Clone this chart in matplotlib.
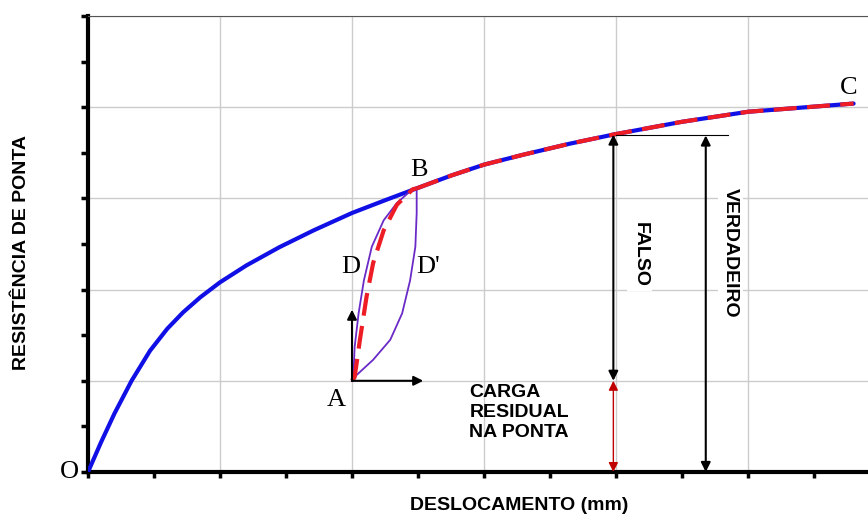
import matplotlib
matplotlib.use('Agg')
import matplotlib.pyplot as plt
from matplotlib.ticker import MultipleLocator

# curva carga x deslocamento (unidades da grade)
curva_x = [0, 0.1, 0.2, 0.33, 0.47, 0.6, 0.72, 0.85, 1.0, 1.2, 1.45, 1.71, 2.0, 2.26,
           2.49, 2.75, 3.0, 3.3, 3.65, 3.98, 4.5, 5.0, 5.4, 5.8]
curva_y = [0, 0.33, 0.64, 1.0, 1.33, 1.57, 1.75, 1.915, 2.08, 2.265, 2.465, 2.65, 2.84, 2.985,
           3.11, 3.25, 3.37, 3.48, 3.60, 3.70, 3.84, 3.95, 3.995, 4.04]
iB = 14  # indice do ponto B

# recarregamento A -> B (tracejado)
rec_x = [2.0, 2.02, 2.06, 2.11, 2.16, 2.24, 2.34, 2.46, 2.49]
rec_y = [1.0, 1.04, 1.45, 1.92, 2.29, 2.65, 2.93, 3.10, 3.11]

# laco de histerese D / D'
laco_d_x = [2.0, 2.01, 2.02, 2.05, 2.09, 2.15, 2.24, 2.34, 2.45, 2.49]
laco_d_y = [1.0, 1.03, 1.37, 1.74, 2.10, 2.47, 2.76, 2.95, 3.09, 3.11]
laco_dl_x = [2.49, 2.49, 2.48, 2.44, 2.38, 2.29, 2.16, 2.01, 2.0]
laco_dl_y = [3.11, 2.84, 2.47, 2.10, 1.74, 1.45, 1.23, 1.03, 1.0]

A = (2.0, 1.0)
x_falso = 3.98
x_verd = 4.68
y_topo = 3.70

fig = plt.figure(figsize=(8.68, 5.2), dpi=100)
ax = fig.add_axes([88/868, 48/520, 780/868, 456/520])
ax.set_xlim(0, 780/132)
ax.set_ylim(0, 5)

ax.xaxis.set_major_locator(MultipleLocator(1))
ax.xaxis.set_minor_locator(MultipleLocator(0.5))
ax.yaxis.set_major_locator(MultipleLocator(1))
ax.yaxis.set_minor_locator(MultipleLocator(0.5))
ax.grid(True, which='major', color='#cccccc', lw=1)
ax.set_axisbelow(True)
ax.tick_params(which='both', labelbottom=False, labelleft=False, color='black')
ax.tick_params(axis='y', which='both', direction='out', length=5, width=2.5)
ax.tick_params(axis='x', which='both', direction='out', length=4, width=2.5)
ax.spines['left'].set_linewidth(3)
ax.spines['bottom'].set_linewidth(3)
ax.spines['top'].set_linewidth(0.8)
ax.spines['top'].set_color('#555555')
ax.spines['right'].set_visible(False)

ax.plot(curva_x, curva_y, color='#1010e6', lw=3, solid_capstyle='round',
        solid_joinstyle='round', zorder=3)
ax.plot(curva_x[iB:], curva_y[iB:], color='#ee1c24', lw=3, dashes=(5.5, 2.5), zorder=4)
ax.plot(laco_d_x, laco_d_y, color='#6a2ac8', lw=1.3, solid_joinstyle='round', zorder=3)
ax.plot(laco_dl_x, laco_dl_y, color='#6a2ac8', lw=1.3, solid_joinstyle='round', zorder=3)
ax.plot(rec_x, rec_y, color='#ee1c24', lw=3, dashes=(5.5, 2.5), zorder=4)

seta = dict(arrowstyle='-|>', color='black', lw=1.5, mutation_scale=14, shrinkA=0, shrinkB=0)
ax.annotate('', xy=(2.0, 1.78), xytext=A, arrowprops=seta, zorder=5)
ax.annotate('', xy=(2.54, 1.0), xytext=A, arrowprops=seta, zorder=5)

dupla = dict(arrowstyle='<|-|>', color='black', lw=1.5, mutation_scale=14, shrinkA=0, shrinkB=0)
ax.annotate('', xy=(x_falso, y_topo), xytext=(x_falso, 1.0), arrowprops=dupla, zorder=5)
ax.annotate('', xy=(x_verd, y_topo - 0.01), xytext=(x_verd, 0), arrowprops=dupla, zorder=5)
dupla_v = dict(arrowstyle='<|-|>', color='#c00000', lw=1, mutation_scale=14, shrinkA=0, shrinkB=0)
ax.annotate('', xy=(x_falso, 1.0), xytext=(x_falso, 0), arrowprops=dupla_v, zorder=5)
ax.plot([4.0, 4.85], [y_topo - 0.01, y_topo - 0.01], color='black', lw=0.8, zorder=4)

serif = dict(family='Liberation Serif', fontsize=19, ha='center', va='center')
ax.text(-0.144, 0.0, 'O', clip_on=False, **serif)
ax.text(1.88, 0.79, 'A', **serif)
ax.text(2.51, 3.31, 'B', **serif)
ax.text(5.76, 4.21, 'C', **serif)
ax.text(1.99, 2.25, 'D', **serif)
ax.text(2.58, 2.25, "D'", **serif)

sans = dict(family='Liberation Sans', fontweight='bold', fontsize=14)
ax.text(2.89, 0.97, 'CARGA\nRESIDUAL\nNA PONTA', ha='left', va='top', linespacing=1.25, **sans)
caixa = dict(facecolor='white', edgecolor='none', pad=3)
ax.text(4.18, 2.39, 'FALSO', rotation=-90, ha='center', va='center', bbox=caixa, zorder=6, **sans)
ax.text(4.87, 2.40, 'VERDADEIRO', rotation=-90, ha='center', va='center', bbox=caixa, zorder=6, **sans)

fig.text(22/868, 1 - 253/520, 'RESISTÊNCIA DE PONTA', rotation=90, ha='center', va='center', **sans)
fig.text(519/868, 1 - 506/520, 'DESLOCAMENTO (mm)', ha='center', va='center', **sans)

fig.savefig('out.png', dpi=100)
